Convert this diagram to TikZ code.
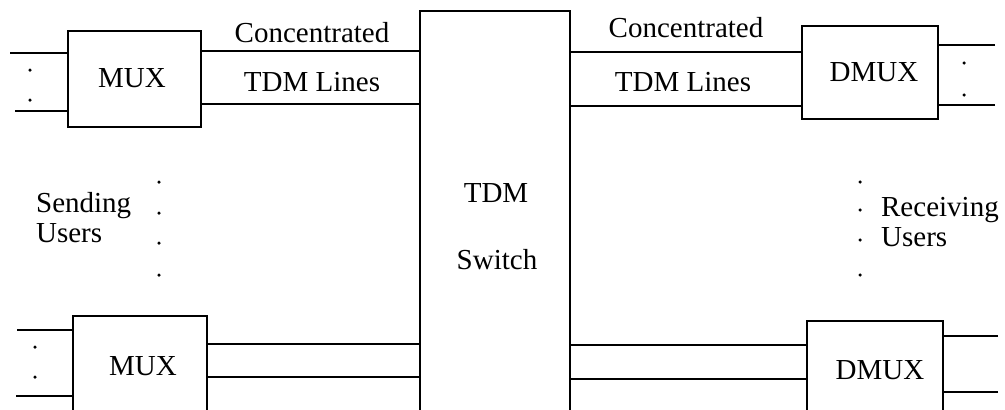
\documentclass[tikz,border=0pt]{standalone}
\usepackage{fontspec}
\setmainfont{Liberation Serif}
\usetikzlibrary{positioning}

\begin{document}
\begin{tikzpicture}[x=1pt,y=-1pt,line width=2.3pt,
    box/.style={draw,inner sep=0pt},
    lbl/.style={font=\fontsize{29}{30}\selectfont,inner sep=0pt},
    dot/.style={circle,fill,inner sep=0pt,minimum size=3.5pt}]
  \useasboundingbox (0,0) rectangle (1005,410);
  \clip (0,0) rectangle (1005,410);
  % switch
  \node[box,minimum width=150pt,minimum height=419pt] (sw) at (495,220.5) {};
  \node[lbl] (swa) at (496,193) {TDM};
  \node[lbl] (swb) at (497,260) {Switch};
  % mux / dmux boxes
  \node[box,minimum width=133pt,minimum height=96pt] (mux1) at (134.5,79) {};
  \node[lbl] (mux1t) at (132,78) {MUX};
  \node[box,minimum width=136pt,minimum height=93pt] (dmux1) at (870,72.5) {};
  \node[lbl] (dmux1t) at (874,72) {DMUX};
  \node[box,minimum width=134pt,minimum height=100pt] (mux2) at (140,366) {};
  \node[lbl] (mux2t) at (143,366) {MUX};
  \node[box,minimum width=136pt,minimum height=100pt] (dmux2) at (875,371) {};
  \node[lbl] (dmux2t) at (880,370) {DMUX};
  % free line ends
  \coordinate (in1a) at (10,53);
  \coordinate (in1b) at (15,111);
  \coordinate (in2a) at (17,330);
  \coordinate (in2b) at (16,396);
  \coordinate (out1a) at (995,45);
  \coordinate (out1b) at (995,105);
  \coordinate (out2a) at (998,336);
  \coordinate (out2b) at (998,392);
  % sending side
  \draw (in1a) -- (in1a -| mux1.west);
  \draw (in1b) -- (in1b -| mux1.west);
  \draw (in2a) -- (in2a -| mux2.west);
  \draw (in2b) -- (in2b -| mux2.west);
  \draw ([yshift=28pt]mux1.east) -- ([yshift=28pt]mux1.east -| sw.west);
  \draw ([yshift=-25pt]mux1.east) -- ([yshift=-25pt]mux1.east -| sw.west);
  \draw ([yshift=22pt]mux2.east) -- ([yshift=22pt]mux2.east -| sw.west);
  \draw ([yshift=-11pt]mux2.east) -- ([yshift=-11pt]mux2.east -| sw.west);
  % receiving side
  \draw ([yshift=20.5pt]dmux1.west) -- ([yshift=20.5pt]dmux1.west -| sw.east);
  \draw ([yshift=-33.5pt]dmux1.west) -- ([yshift=-33.5pt]dmux1.west -| sw.east);
  \draw ([yshift=26pt]dmux2.west) -- ([yshift=26pt]dmux2.west -| sw.east);
  \draw ([yshift=-8pt]dmux2.west) -- ([yshift=-8pt]dmux2.west -| sw.east);
  \draw (out1a) -- (out1a -| dmux1.east);
  \draw (out1b) -- (out1b -| dmux1.east);
  \draw (out2a) -- (out2a -| dmux2.east);
  \draw (out2b) -- (out2b -| dmux2.east);
  % line labels
  \node[lbl] (cl) at (312,33) {Concentrated};
  \node[lbl] (tl) at (312,82) {TDM Lines};
  \node[lbl] (cr) at (686,28) {Concentrated};
  \node[lbl] (tr) at (683,82) {TDM Lines};
  % users
  \node[lbl,anchor=west,align=left] (send) at (35,218) {Sending\\Users};
  \node[lbl,anchor=west,align=left] (recv) at (880,222) {Receiving\\Users};
  % dots
  \foreach \y in {70,100} \node[dot] at (30,\y) {};
  \foreach \y in {347,377} \node[dot] at (35,\y) {};
  \foreach \y in {63,95} \node[dot] at (964,\y) {};
  \foreach \y in {182,213,243,275} \node[dot] at (159,\y) {};
  \foreach \y in {182,210,240,275} \node[dot] at (860,\y) {};
\end{tikzpicture}
\end{document}
